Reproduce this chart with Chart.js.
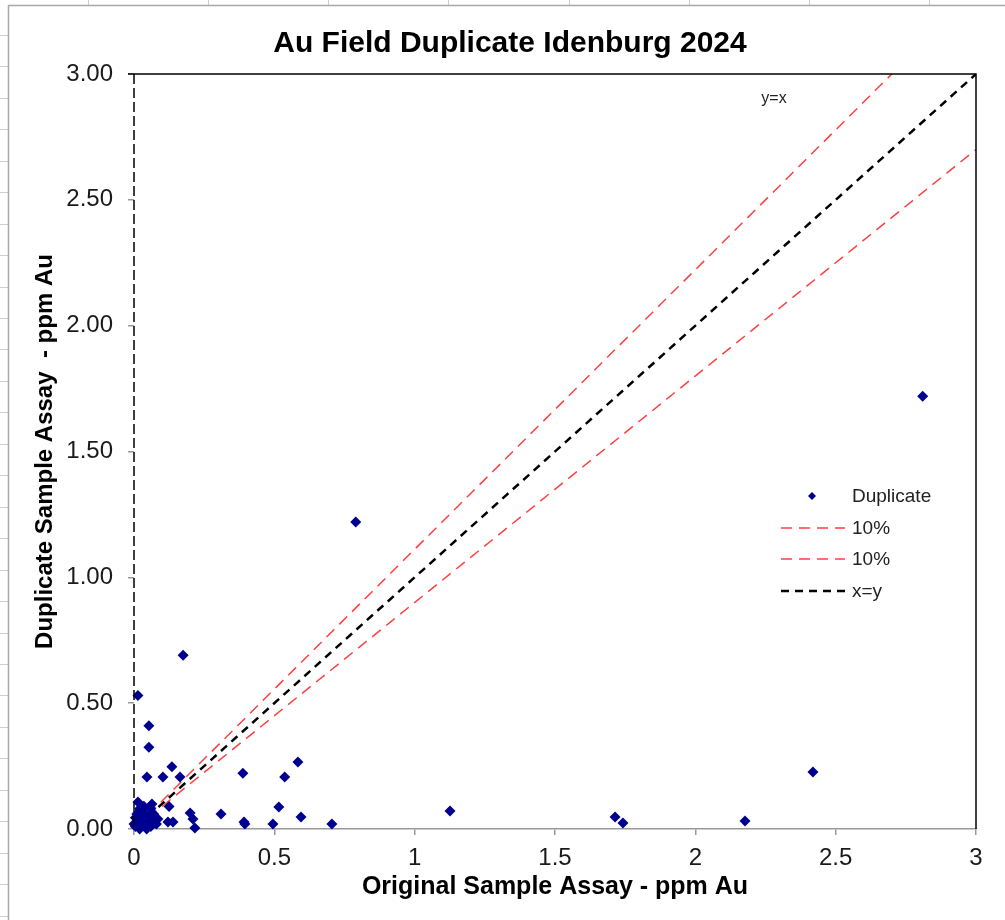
<!DOCTYPE html>
<html><head><meta charset="utf-8">
<script src="https://cdn.jsdelivr.net/npm/chart.js@4.4.1/dist/chart.umd.min.js"></script>
<style>html,body{margin:0;padding:0;background:#fff;} #wrap{position:relative;width:1005px;height:920px;}</style>
</head><body><div id="wrap"><canvas id="c" width="1005" height="920"></canvas></div>
<script>
const chartTitle = 'Au Field Duplicate Idenburg 2024';
const xAxisTitle = 'Original Sample Assay - ppm Au';
const yAxisTitle = 'Duplicate Sample Assay  - ppm Au';
const noteText = 'y=x';
const xTickValues = [0, 0.5, 1, 1.5, 2, 2.5, 3];
const yTickValues = [0, 0.5, 1, 1.5, 2, 2.5, 3];

const originalAu = [2.81, 0.79, 0.175, 0.014, 0.053, 0.053, 0.046, 0.103, 0.135, 0.164,
  0.014, 0.064, 0.125, 0.085, 0.121, 0.139, 0.200, 0.210, 0.217, 0.31,
  0.388, 0.392, 0.395, 0.495, 0.516, 0.537, 0.584, 0.595, 0.705, 1.126,
  1.714, 1.742, 2.177, 2.419,
  0.005, 0.010, 0.020, 0.030, 0.040, 0.050, 0.060, 0.070, 0.020, 0.000,
  0.030, 0.040, 0.010, 0.055, 0.065, 0.025, 0.015, 0.045, 0.070, 0.035,
  0.020, 0.060, 0.005, 0.080];
const duplicateAu = [1.72, 1.22, 0.69, 0.53, 0.41, 0.325, 0.207, 0.207, 0.247, 0.207,
  0.107, 0.099, 0.089, 0.040, 0.028, 0.028, 0.064, 0.040, 0.004, 0.060,
  0.222, 0.028, 0.020, 0.020, 0.087, 0.207, 0.266, 0.048, 0.020, 0.072,
  0.048, 0.024, 0.032, 0.226,
  0.010, 0.030, 0.050, 0.020, 0.060, 0.030, 0.080, 0.040, 0.000, 0.020,
  0.070, 0.010, 0.060, 0.050, 0.020, 0.035, 0.015, 0.000, 0.060, 0.090,
  0.080, 0.010, 0.045, 0.020];

const upperLineX = [0.05, 2.7];
const upperLineY = [0.056, 3.0];
const lowerLineX = [0.05, 3.0];
const lowerLineY = [0.045, 2.7];
const xyLineX = [0.05, 3.0];
const xyLineY = [0.05, 3.0];

const pts = (xs, ys) => xs.map((x, i) => ({x: x, y: ys[i]}));
const FONT = "'Liberation Sans', Arial, sans-serif";

const framePlugin = {
  id: 'frame',
  beforeDraw(chart) {
    const ctx = chart.ctx;
    ctx.save();
    ctx.fillStyle = '#fff';
    ctx.fillRect(0, 0, chart.width, chart.height);
    ctx.strokeStyle = '#d0d0d0';
    ctx.lineWidth = 1;
    for (let y = 35; y < chart.height; y += 31.45) {
      ctx.beginPath(); ctx.moveTo(0, Math.round(y) + 0.5); ctx.lineTo(8, Math.round(y) + 0.5); ctx.stroke();
    }
    for (let x = 88; x < chart.width; x += 120.15) {
      ctx.beginPath(); ctx.moveTo(Math.round(x) + 0.5, 0); ctx.lineTo(Math.round(x) + 0.5, 5); ctx.stroke();
    }
    ctx.strokeStyle = '#a8a8a8';
    ctx.lineWidth = 1.5;
    ctx.beginPath(); ctx.moveTo(8.5, chart.height); ctx.lineTo(8.5, 5.5); ctx.lineTo(chart.width, 5.5); ctx.stroke();
    ctx.restore();
  },
  afterDraw(chart) {
    const ctx = chart.ctx;
    const a = chart.chartArea;
    ctx.save();
    // dashed left axis line
    ctx.strokeStyle = '#000';
    ctx.lineWidth = 1.5;
    ctx.setLineDash([10, 4]);
    ctx.beginPath(); ctx.moveTo(a.left, a.top); ctx.lineTo(a.left, a.bottom); ctx.stroke();
    ctx.setLineDash([]);
    // top & right border
    ctx.beginPath(); ctx.moveTo(a.left - 6, a.top); ctx.lineTo(a.right, a.top); ctx.lineTo(a.right, a.bottom); ctx.stroke();
    // title
    ctx.fillStyle = '#000';
    ctx.font = 'bold 30px ' + FONT;
    ctx.textAlign = 'center'; ctx.textBaseline = 'middle';
    ctx.fillText(chartTitle, 510, 44);
    // note
    ctx.font = '16px ' + FONT;
    ctx.fillStyle = '#222';
    ctx.fillText(noteText, 774, 99);
    // legend
    const ds = chart.data.datasets;
    const rows = [496, 528, 559, 591];
    ctx.font = '19px ' + FONT;
    ctx.textAlign = 'left';
    ds.slice(0, 4).forEach((d, i) => {
      const y = rows[i];
      if (d.showLine) {
        ctx.strokeStyle = d.borderColor;
        ctx.lineWidth = d.borderWidth;
        ctx.setLineDash(d.borderDash);
        ctx.beginPath(); ctx.moveTo(781, y); ctx.lineTo(845, y); ctx.stroke();
        ctx.setLineDash([]);
      } else {
        ctx.fillStyle = d.backgroundColor;
        ctx.beginPath();
        ctx.moveTo(812, y - 4); ctx.lineTo(816, y); ctx.lineTo(812, y + 4); ctx.lineTo(808, y); ctx.closePath();
        ctx.fill();
      }
      ctx.fillStyle = '#222';
      ctx.fillText(d.label, 852, y + 1);
    });
    ctx.restore();
  }
};

new Chart(document.getElementById('c'), {
  type: 'scatter',
  data: {
    datasets: [
      {label: 'Duplicate', data: pts(originalAu, duplicateAu), pointStyle: 'rectRot', pointRadius: 5.5, pointHoverRadius: 5.5,
        backgroundColor: '#000090', borderColor: '#000090', borderWidth: 0, showLine: false, clip: false, order: 0},
      {label: '10%', data: pts(upperLineX, upperLineY), showLine: true, pointRadius: 0, borderColor: '#ff4040', borderWidth: 1.5, borderDash: [11, 7], order: 1},
      {label: '10%', data: pts(lowerLineX, lowerLineY), showLine: true, pointRadius: 0, borderColor: '#ff4040', borderWidth: 1.5, borderDash: [11, 7], order: 1},
      {label: 'x=y', data: pts(xyLineX, xyLineY), showLine: true, pointRadius: 0, borderColor: '#000', borderWidth: 2.5, borderDash: [8, 6], order: 1}
    ]
  },
  options: {
    responsive: false,
    animation: false,
    events: [],
    layout: {padding: {left: 0, top: 74, right: 29, bottom: 0}},
    plugins: {legend: {display: false}, title: {display: false}, tooltip: {enabled: false}},
    scales: {
      x: {
        type: 'linear', min: 0, max: 3,
        afterBuildTicks: s => { s.ticks = xTickValues.map(v => ({value: v})); },
        afterFit: s => { s.height = 91; },
        ticks: {font: {family: FONT, size: 24}, color: '#1a1a1a', padding: 9, maxRotation: 0,
          callback: v => String(v)},
        grid: {drawOnChartArea: false, drawTicks: true, tickLength: 6, color: '#999', lineWidth: 1.5},
        border: {color: '#999', width: 1.5},
        title: {display: true, text: xAxisTitle, font: {family: FONT, size: 25, weight: 'bold'}, color: '#000', padding: {top: 0, bottom: 18}}
      },
      y: {
        type: 'linear', min: 0, max: 3,
        afterBuildTicks: s => { s.ticks = yTickValues.map(v => ({value: v})); },
        afterFit: s => { s.width = 134; },
        ticks: {font: {family: FONT, size: 24}, color: '#1a1a1a', padding: 15,
          callback: v => Number(v).toFixed(2)},
        grid: {drawOnChartArea: false, drawTicks: true, tickLength: 6, color: '#999', lineWidth: 1.5},
        border: {display: false},
        title: {display: true, text: yAxisTitle, font: {family: FONT, size: 24, weight: 'bold'}, color: '#000', padding: {top: 31, bottom: 0}}
      }
    }
  },
  plugins: [framePlugin]
});
</script>
</body></html>
